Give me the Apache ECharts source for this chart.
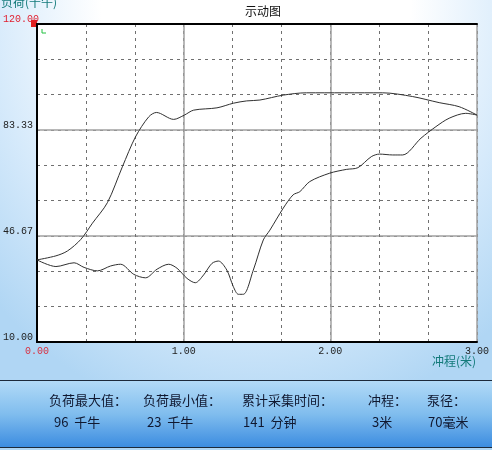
<!DOCTYPE html>
<html><head><meta charset="utf-8">
<script src="https://cdn.jsdelivr.net/npm/echarts@6/dist/echarts.min.js"></script>
<style>
html,body{margin:0;padding:0;}
body{width:492px;height:450px;background:radial-gradient(ellipse 75% 95% at 52% 0%, #ffffff 42%, #d6eafb 72%, #b0d6f4 100%);}
#c{width:492px;height:450px;}
</style></head>
<body><div id="c"></div>
<script>
// Upstroke (loading) branch: stroke in metres, load in kN
const upStroke = [0, 0.129, 0.208, 0.299, 0.378, 0.480, 0.582, 0.672, 0.762, 0.814, 0.932, 1.005, 1.068, 1.227, 1.339, 1.430, 1.520, 1.679, 1.837, 2.357, 2.561, 2.742, 2.878, 3.0];
const upLoad   = [38.4, 39.8, 41.5, 45.5, 51.1, 58.2, 70.6, 81.0, 87.9, 89.4, 87.0, 88.5, 90.2, 91.0, 92.6, 93.4, 93.7, 95.4, 96.2, 96.2, 94.9, 92.8, 91.4, 88.5];
// Downstroke branch (right to left)
const downStroke = [2.923, 2.810, 2.720, 2.618, 2.493, 2.425, 2.335, 2.279, 2.188, 2.109, 1.996, 1.860, 1.792, 1.746, 1.679, 1.588, 1.543, 1.475, 1.407, 1.373, 1.339, 1.294, 1.237, 1.193, 1.136, 1.079, 1.023, 0.955, 0.898, 0.819, 0.740, 0.660, 0.570, 0.502, 0.412, 0.321, 0.253, 0.129, 0];
const downLoad   = [89.1, 87.4, 84.5, 80.5, 74.7, 74.7, 75.0, 74.1, 70.3, 69.7, 68.4, 65.5, 62.0, 60.9, 56.3, 48.7, 45.3, 34.9, 26.5, 26.5, 29.1, 34.9, 38.0, 37.2, 33.2, 30.5, 32.0, 35.5, 36.9, 35.2, 32.2, 33.4, 36.9, 36.3, 34.6, 35.8, 37.4, 36.1, 38.4];
const xLabels = ['0.00', '1.00', '2.00', '3.00'];
const yLabels = ['10.00', '46.67', '83.33', '120.00'];
const summaryTitles = ['负荷最大值：', '负荷最小值：', '累计采集时间：', '冲程：', '泵径：'];
const summaryValues = ['96  千牛', '23  千牛', '141  分钟', '3米', '70毫米'];

const loop = upStroke.map((x, i) => [x, upLoad[i]]).concat(downStroke.map((x, i) => [x, downLoad[i]]));

const chart = echarts.init(document.getElementById('c'), null, {renderer: 'canvas'});
const monoFont = '"Liberation Mono", "DejaVu Sans Mono", monospace';
const cjkFont = '"Noto Sans CJK SC", sans-serif';
const yStep = 110 / 9;

const summaryX = [49, 143, 242, 368, 427];
const summaryVX = [54, 147, 243, 372, 428];
const graphics = [
  {type: 'rect', left: 0, top: 380, shape: {width: 492, height: 68},
   style: {fill: new echarts.graphic.LinearGradient(0, 0, 0, 1, [
     {offset: 0, color: '#b3dbf7'}, {offset: 0.5, color: '#80bdee'}, {offset: 1, color: '#3a8be0'}])}, silent: true},
  {type: 'line', shape: {x1: 0, y1: 380.5, x2: 492, y2: 380.5}, style: {stroke: '#1c2a3a', lineWidth: 1}},
  {type: 'line', shape: {x1: 0, y1: 447.5, x2: 492, y2: 447.5}, style: {stroke: '#1c2a3a', lineWidth: 1}},
  {type: 'text', left: 1, top: -4, style: {text: '负荷(千牛)', fill: '#137a7a', font: '12px ' + cjkFont}},
  {type: 'text', left: 432, top: 355, style: {text: '冲程(米)', fill: '#137a7a', font: '12px ' + cjkFont}},
  {type: 'rect', left: 31, top: 20, shape: {width: 6, height: 7}, style: {fill: '#e02020'}},
  {type: 'polyline', shape: {points: [[42, 29], [42, 33], [46, 33]]}, style: {stroke: '#22c040', lineWidth: 1, fill: null}}
];
summaryTitles.forEach((t, i) => {
  graphics.push({type: 'text', left: summaryX[i], top: 394, style: {text: t, fill: '#101830', font: '13px ' + cjkFont}});
  graphics.push({type: 'text', left: summaryVX[i], top: 416, style: {text: summaryValues[i], fill: '#101830', font: '13px ' + cjkFont}});
});

chart.setOption({
  animation: false,
  backgroundColor: 'transparent',
  title: {text: '示动图', left: 240, top: 0, textStyle: {fontSize: 12, fontWeight: 'normal', color: '#111', fontFamily: cjkFont}},
  grid: {left: 36, right: 14, top: 24, bottom: 108, show: true, backgroundColor: '#ffffff', borderWidth: 0},
  xAxis: [
    {type: 'value', min: 0, max: 3, interval: 1 / 3, position: 'bottom',
     axisLine: {show: true, lineStyle: {color: '#000', width: 2}}, axisTick: {show: false},
     splitLine: {show: true, lineStyle: {color: '#707070', type: [3, 4], width: 1}},
     axisLabel: {margin: 4, fontFamily: monoFont, fontSize: 10, color: '#222',
       formatter: function (v) {
         const k = Math.round(v);
         if (Math.abs(v - k) > 1e-6) return '';
         return k === 0 ? '{r|' + xLabels[k] + '}' : xLabels[k];
       },
       rich: {r: {color: '#d83040', fontFamily: monoFont, fontSize: 10}}}},
    {type: 'value', min: 0, max: 3, interval: 1, position: 'top',
     axisLine: {show: true, lineStyle: {color: '#000', width: 2}}, axisTick: {show: false}, axisLabel: {show: false},
     splitLine: {show: true, lineStyle: {color: '#a0a0a0', width: 1.5}}}
  ],
  yAxis: [
    {type: 'value', min: 10, max: 120, interval: yStep, position: 'left',
     axisLine: {show: true, lineStyle: {color: '#000', width: 2}}, axisTick: {show: false},
     splitLine: {show: true, lineStyle: {color: '#707070', type: [3, 4], width: 1}},
     axisLabel: {margin: 34, align: 'left', verticalAlign: 'bottom', fontFamily: monoFont, fontSize: 10, color: '#222',
       formatter: function (v) {
         const k = Math.round((v - 10) / yStep);
         if (k % 3 !== 0) return '';
         const s = yLabels[k / 3];
         return k === 9 ? '{r|' + s + '}' : s;
       },
       rich: {r: {color: '#e02030', fontFamily: monoFont, fontSize: 10}}}},
    {type: 'value', min: 10, max: 120, interval: 110 / 3, position: 'right',
     axisLine: {show: true, lineStyle: {color: '#000', width: 2}}, axisTick: {show: false}, axisLabel: {show: false},
     splitLine: {show: true, lineStyle: {color: '#a0a0a0', width: 1.5}}}
  ],
  series: [{
    type: 'line', xAxisIndex: 0, yAxisIndex: 0, data: loop, smooth: 0.3, showSymbol: false,
    lineStyle: {color: '#303030', width: 1}
  }],
  graphic: graphics
});
</script></body></html>
